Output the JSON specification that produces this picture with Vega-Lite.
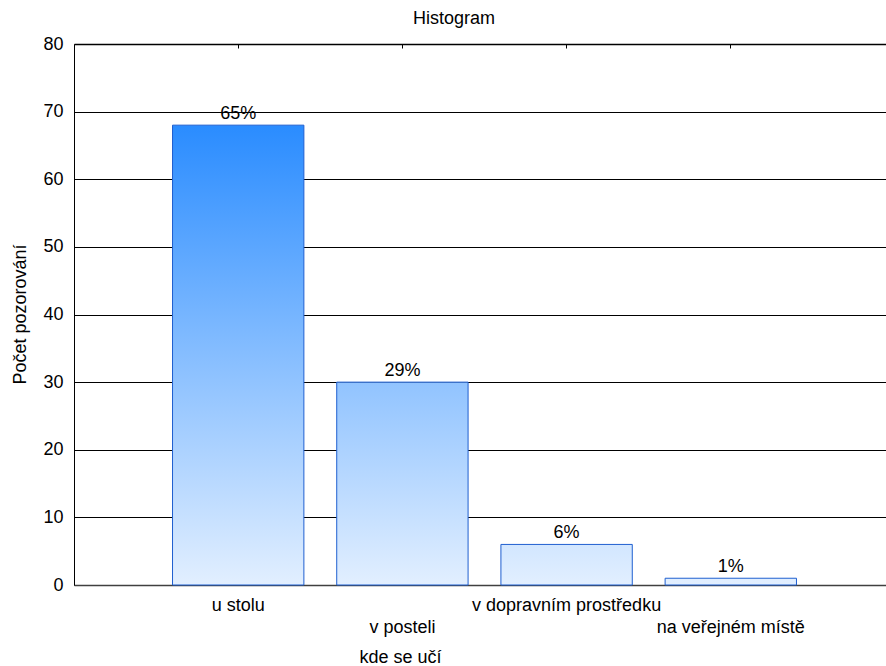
{
  "$schema": "https://vega.github.io/schema/vega-lite/v6.json",
  "width": 812,
  "height": 541,
  "autosize": {"type": "none"},
  "padding": {"left": 74, "top": 44, "right": 0, "bottom": 81},
  "background": "white",
  "config": {
    "view": {"stroke": null},
    "font": "Liberation Sans",
    "axis": {"labelFont": "Liberation Sans", "titleFont": "Liberation Sans", "labelColor": "black", "titleColor": "black", "titleFontWeight": "normal"}
  },
  "title": {"text": "Histogram", "fontSize": 18, "fontWeight": "normal", "font": "Liberation Sans", "color": "black", "anchor": "middle", "dx": -26, "offset": 7},
  "data": {
    "values": [
      {"kde": "u stolu", "n": 68, "pct": "65%"},
      {"kde": "v posteli", "n": 30, "pct": "29%"},
      {"kde": "v dopravním prostředku", "n": 6, "pct": "6%"},
      {"kde": "na veřejném místě", "n": 1, "pct": "1%"}
    ]
  },
  "encoding": {
    "x": {"field": "kde", "type": "nominal", "sort": null,
      "scale": {"rangeMax": 821, "paddingInner": 0.2, "paddingOuter": 0.6}},
    "y": {"field": "n", "type": "quantitative",
      "scale": {"domain": [0, 80], "nice": false}}
  },
  "layer": [
    {
      "mark": {"type": "bar", "stroke": "#1f5fd0", "strokeWidth": 1},
      "encoding": {
        "x": {"field": "kde", "type": "nominal", "sort": null,
          "axis": {"orient": "bottom", "title": "kde se učí", "titleFontSize": 18, "labelFontSize": 18, "labelAngle": 0, "labelLimit": 0,
            "domainColor": "#404040", "domainWidth": 1.5, "tickColor": "#333333", "tickSize": -4,
            "labelPadding": {"condition": {"test": "indexof(['v posteli','na veřejném místě'], datum.value) >= 0", "value": 37}, "value": 15},
            "labelOverlap": false, "labelBaseline": "top",
            "titleX": 326, "titleY": 63, "titleBaseline": "top", "titleAlign": "center"}},
        "y": {"field": "n", "type": "quantitative",
          "axis": {"title": "Počet pozorování", "titleFontSize": 18, "labelFontSize": 18, "values": [0, 10, 20, 30, 40, 50, 60, 70, 80],
            "grid": true, "gridColor": "black", "gridWidth": 1, "gridOpacity": 1,
            "domainColor": "black", "ticks": false, "labelPadding": 11, "labelBaseline": "middle",
            "titleX": -54, "titleY": 270, "titleAngle": -90, "titleAlign": "center", "titleBaseline": "middle"}},
        "fill": {
          "condition": [
            {"test": "datum.kde == 'v posteli'", "value": {"gradient": "linear", "x1": 0, "y1": -1.267, "x2": 0, "y2": 1, "stops": [{"offset": 0, "color": "#2a8cff"}, {"offset": 1, "color": "#e2efff"}]}},
            {"test": "datum.kde == 'v dopravním prostředku'", "value": {"gradient": "linear", "x1": 0, "y1": -10.333, "x2": 0, "y2": 1, "stops": [{"offset": 0, "color": "#2a8cff"}, {"offset": 1, "color": "#e2efff"}]}},
            {"test": "datum.kde == 'na veřejném místě'", "value": {"gradient": "linear", "x1": 0, "y1": -67, "x2": 0, "y2": 1, "stops": [{"offset": 0, "color": "#2a8cff"}, {"offset": 1, "color": "#e2efff"}]}}
          ],
          "value": {"gradient": "linear", "x1": 0, "y1": 0, "x2": 0, "y2": 1, "stops": [{"offset": 0, "color": "#2a8cff"}, {"offset": 1, "color": "#e2efff"}]}
        }
      }
    },
    {
      "mark": {"type": "text", "baseline": "bottom", "dy": -2, "fontSize": 18, "font": "Liberation Sans", "color": "black"},
      "encoding": {
        "x": {"field": "kde", "type": "nominal", "sort": null,
          "axis": {"orient": "top", "title": null, "labels": false, "domainColor": "black", "domainWidth": 1.5, "tickColor": "black", "tickSize": -4}},
        "text": {"field": "pct", "type": "nominal"}
      }
    }
  ],
  "resolve": {"axis": {"x": "independent"}}
}
